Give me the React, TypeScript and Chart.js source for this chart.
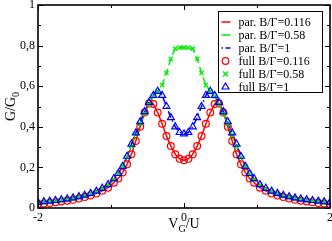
import React, { useEffect, useRef } from "react";
import { Chart, registerables } from "chart.js";

Chart.register(...registerables);

// ---------------- data ----------------
const xValues = [
  -2.0, -1.92, -1.84, -1.76, -1.68, -1.6, -1.52, -1.44, -1.36, -1.28, -1.2, -1.12, -1.04,
  -0.96, -0.9, -0.84, -0.78, -0.72, -0.66, -0.6, -0.54, -0.48, -0.42, -0.36, -0.3, -0.24, -0.18, -0.12, -0.06,
  0,
  0.06, 0.12, 0.18, 0.24, 0.3, 0.36, 0.42, 0.48, 0.54, 0.6, 0.66, 0.72, 0.78, 0.84, 0.9, 0.96,
  1.04, 1.12, 1.2, 1.28, 1.36, 1.44, 1.52, 1.6, 1.68, 1.76, 1.84, 1.92, 2.0,
];

// B/Γ = 0.116
const gRed = [
  0.02, 0.022, 0.025, 0.028, 0.032, 0.036, 0.041, 0.047, 0.054, 0.062, 0.072, 0.085, 0.1,
  0.125, 0.145, 0.175, 0.215, 0.265, 0.33, 0.4, 0.47, 0.515, 0.512, 0.47, 0.415, 0.355, 0.305, 0.265, 0.242,
  0.235,
  0.242, 0.265, 0.305, 0.355, 0.415, 0.47, 0.512, 0.515, 0.47, 0.4, 0.33, 0.265, 0.215, 0.175, 0.145, 0.125,
  0.1, 0.085, 0.072, 0.062, 0.054, 0.047, 0.041, 0.036, 0.032, 0.028, 0.025, 0.022, 0.02,
];

// B/Γ = 0.58
const gGreen = [
  0.025, 0.028, 0.031, 0.034, 0.038, 0.042, 0.047, 0.053, 0.06, 0.069, 0.08, 0.094, 0.113,
  0.14, 0.168, 0.205, 0.25, 0.305, 0.36, 0.415, 0.465, 0.51, 0.55, 0.575, 0.605, 0.665, 0.735, 0.785, 0.79,
  0.79,
  0.79, 0.785, 0.735, 0.665, 0.605, 0.575, 0.55, 0.51, 0.465, 0.415, 0.36, 0.305, 0.25, 0.205, 0.168, 0.14,
  0.113, 0.094, 0.08, 0.069, 0.06, 0.053, 0.047, 0.042, 0.038, 0.034, 0.031, 0.028, 0.025,
];

// B/Γ = 1
const gBlue = [
  0.028, 0.031, 0.034, 0.037, 0.041, 0.045, 0.05, 0.056, 0.063, 0.072, 0.083, 0.097, 0.115,
  0.145, 0.17, 0.205, 0.255, 0.315, 0.37, 0.425, 0.475, 0.52, 0.555, 0.575, 0.555, 0.5, 0.445, 0.4, 0.372,
  0.365,
  0.372, 0.4, 0.445, 0.5, 0.555, 0.575, 0.555, 0.52, 0.475, 0.425, 0.37, 0.315, 0.255, 0.205, 0.17, 0.145,
  0.115, 0.097, 0.083, 0.072, 0.063, 0.056, 0.05, 0.045, 0.041, 0.037, 0.034, 0.031, 0.028,
];

const seriesLabels = [
  "par. B/Γ=0.116",
  "par. B/Γ=0.58",
  "par. B/Γ=1",
  "full B/Γ=0.116",
  "full B/Γ=0.58",
  "full B/Γ=1",
];

const xTickValues = [-2, 0, 2];
const xTickLabels = ["-2", "0", "2"];
const xMinorTicks = [-1, 1];
const yTickValues = [0, 0.2, 0.4, 0.6, 0.8, 1];
const yTickLabels = ["0", "0,2", "0,4", "0,6", "0,8", "1"];
const yMinorTicks = [0.1, 0.3, 0.5, 0.7, 0.9];

// ---------------- styles ----------------
const SERIF = "'Liberation Serif', 'Times New Roman', serif";
const RED = "#ff0000";
const GREEN = "#00ee00";
const BLUE = "#0000ff";

const pts = (ys: number[]) => xValues.map((x, i) => ({ x, y: ys[i] }));

function drawMarker(ctx: CanvasRenderingContext2D, style: string, x: number, y: number, r: number) {
  ctx.beginPath();
  if (style === "circle") {
    ctx.arc(x, y, r, 0, Math.PI * 2);
  } else if (style === "crossRot") {
    ctx.moveTo(x - r * 0.8, y - r * 0.8);
    ctx.lineTo(x + r * 0.8, y + r * 0.8);
    ctx.moveTo(x + r * 0.8, y - r * 0.8);
    ctx.lineTo(x - r * 0.8, y + r * 0.8);
  } else {
    ctx.moveTo(x, y - r);
    ctx.lineTo(x + r * 0.87, y + r * 0.5);
    ctx.lineTo(x - r * 0.87, y + r * 0.5);
    ctx.closePath();
  }
  ctx.stroke();
}

function drawSubText(
  ctx: CanvasRenderingContext2D,
  parts: [string, boolean][],
  cx: number,
  baseline: number,
  size: number
) {
  const subSize = size * 0.72;
  let total = 0;
  const widths = parts.map(([t, sub]) => {
    ctx.font = `${sub ? subSize : size}px ${SERIF}`;
    const w = ctx.measureText(t).width;
    total += w;
    return w;
  });
  let x = cx - total / 2;
  ctx.textAlign = "left";
  ctx.textBaseline = "alphabetic";
  parts.forEach(([t, sub], i) => {
    ctx.font = `${sub ? subSize : size}px ${SERIF}`;
    ctx.fillText(t, x, baseline + (sub ? size * 0.28 : 0));
    x += widths[i];
  });
}

const framePlugin = {
  id: "frameTicks",
  afterDatasetsDraw(chart: any) {
    const { ctx, chartArea: ca, scales } = chart;
    const xs = scales.x;
    const ys = scales.y;
    ctx.save();
    ctx.strokeStyle = "#000";
    ctx.setLineDash([]);
    ctx.lineWidth = 1;
    const major = 5;
    const minor = 3;
    const vt = (v: number, len: number) => {
      const px = Math.round(xs.getPixelForValue(v)) + 0.5;
      ctx.beginPath();
      ctx.moveTo(px, ca.bottom);
      ctx.lineTo(px, ca.bottom - len);
      ctx.moveTo(px, ca.top);
      ctx.lineTo(px, ca.top + len);
      ctx.stroke();
    };
    const ht = (v: number, len: number) => {
      const py = Math.round(ys.getPixelForValue(v)) + 0.5;
      ctx.beginPath();
      ctx.moveTo(ca.left, py);
      ctx.lineTo(ca.left + len, py);
      ctx.moveTo(ca.right, py);
      ctx.lineTo(ca.right - len, py);
      ctx.stroke();
    };
    xTickValues.forEach((v) => vt(v, major));
    xMinorTicks.forEach((v) => vt(v, minor));
    yTickValues.forEach((v) => ht(v, major));
    yMinorTicks.forEach((v) => ht(v, minor));
    ctx.lineWidth = 1.6;
    ctx.strokeRect(ca.left, ca.top, ca.right - ca.left, ca.bottom - ca.top);
    ctx.restore();
  },
};

const legendPlugin = {
  id: "boxLegend",
  afterDraw(chart: any) {
    const { ctx, chartArea: ca } = chart;
    const bx = ca.right - 111.5;
    const by = ca.top + 6.5;
    const bw = 104;
    const bh = 81;
    ctx.save();
    ctx.fillStyle = "#fff";
    ctx.fillRect(bx, by, bw, bh);
    ctx.strokeStyle = "#000";
    ctx.lineWidth = 1;
    ctx.setLineDash([]);
    ctx.strokeRect(bx, by, bw, bh);
    const datasets = chart.data.datasets;
    datasets.forEach((ds: any, i: number) => {
      const y = by + 10.5 + 13 * i;
      const sx = bx + 7;
      ctx.strokeStyle = ds.borderColor;
      if (ds.showLine) {
        ctx.lineWidth = 1.5;
        ctx.beginPath();
        if (ds.legendDash) {
          ctx.setLineDash(ds.legendDash);
        } else {
          ctx.setLineDash([]);
        }
        ctx.moveTo(sx - 4, y);
        ctx.lineTo(sx + 5, y);
        ctx.stroke();
        ctx.setLineDash([]);
      } else {
        ctx.lineWidth = ds.pointBorderWidth;
        drawMarker(ctx, ds.pointStyle, sx, y, ds.legendRadius);
      }
      ctx.fillStyle = "#000";
      ctx.font = `12px ${SERIF}`;
      ctx.textAlign = "left";
      ctx.textBaseline = "middle";
      ctx.fillText(ds.label, bx + 20, y + 0.5);
    });
    ctx.restore();
  },
};

const titlePlugin = {
  id: "axisTitles",
  afterDraw(chart: any) {
    const { ctx, chartArea: ca } = chart;
    ctx.save();
    ctx.fillStyle = "#000";
    drawSubText(ctx, [["V", false], ["G", true], ["/U", false]], (ca.left + ca.right) / 2, 228, 14);
    ctx.translate(15, (ca.top + ca.bottom) / 2);
    ctx.rotate(-Math.PI / 2);
    drawSubText(ctx, [["G/G", false], ["0", true]], 0, 0, 14);
    ctx.restore();
  },
};

export default function App() {
  const ref = useRef<HTMLCanvasElement>(null);
  useEffect(() => {
    if (!ref.current) return;
    const lineBase = { showLine: true, pointRadius: 0, borderWidth: 1.5, fill: false, tension: 0 };
    const markBase = {
      showLine: false,
      backgroundColor: "rgba(0,0,0,0)",
      pointBackgroundColor: "rgba(0,0,0,0)",
      pointBorderWidth: 1.2,
    };
    const chart = new Chart(ref.current, {
      type: "scatter",
      data: {
        datasets: [
          { ...lineBase, label: seriesLabels[0], data: pts(gRed), borderColor: RED, order: 6 },
          { ...lineBase, label: seriesLabels[1], data: pts(gGreen), borderColor: GREEN, borderDash: [7, 4], order: 5 },
          {
            ...lineBase,
            label: seriesLabels[2],
            data: pts(gBlue),
            borderColor: BLUE,
            borderDash: [7, 3, 1.5, 3],
            legendDash: [1.5, 2.5, 6, 0],
            order: 4,
          },
          {
            ...markBase,
            label: seriesLabels[3],
            data: pts(gRed),
            borderColor: RED,
            pointBorderColor: RED,
            pointStyle: "circle",
            pointRadius: 3.4,
            legendRadius: 3.3,
            order: 3,
          },
          {
            ...markBase,
            label: seriesLabels[4],
            data: pts(gGreen),
            borderColor: GREEN,
            pointBorderColor: GREEN,
            pointStyle: "crossRot",
            pointRadius: 3,
            pointBorderWidth: 1.4,
            legendRadius: 3,
            order: 2,
          },
          {
            ...markBase,
            label: seriesLabels[5],
            data: pts(gBlue),
            borderColor: BLUE,
            pointBorderColor: BLUE,
            pointStyle: "triangle",
            pointRadius: 4,
            legendRadius: 4,
            order: 1,
          },
        ] as any,
      },
      options: {
        animation: false,
        responsive: false,
        devicePixelRatio: 1,
        layout: { autoPadding: false, padding: { top: 5, right: 2, left: 0, bottom: 0 } },
        plugins: { legend: { display: false }, tooltip: { enabled: false } },
        scales: {
          x: {
            type: "linear",
            min: -2,
            max: 2,
            grid: { display: false, drawTicks: false },
            border: { display: false },
            afterBuildTicks: (s: any) => {
              s.ticks = xTickValues.map((v) => ({ value: v }));
            },
            afterFit: (s: any) => {
              s.height = 33;
              s.paddingLeft = 0;
              s.paddingRight = 0;
            },
            ticks: {
              autoSkip: false,
              maxRotation: 0,
              padding: 3,
              color: "#000",
              font: { family: SERIF, size: 12 },
              callback: (v: any) => {
                const i = xTickValues.indexOf(Number(v));
                return i >= 0 ? xTickLabels[i] : "";
              },
            },
          },
          y: {
            type: "linear",
            min: 0,
            max: 1,
            grid: { display: false, drawTicks: false },
            border: { display: false },
            afterBuildTicks: (s: any) => {
              s.ticks = yTickValues.map((v) => ({ value: v }));
            },
            afterFit: (s: any) => {
              s.width = 38;
              s.paddingTop = 0;
              s.paddingBottom = 0;
            },
            ticks: {
              autoSkip: false,
              padding: 3,
              color: "#000",
              font: { family: SERIF, size: 12 },
              callback: (v: any) => {
                const i = yTickValues.findIndex((t) => Math.abs(t - Number(v)) < 1e-9);
                return i >= 0 ? yTickLabels[i] : "";
              },
            },
          },
        },
      } as any,
      plugins: [framePlugin, legendPlugin, titlePlugin],
    });
    return () => chart.destroy();
  }, []);
  return (
    <div style={{ position: "fixed", left: 0, top: 0, width: 332, height: 241, background: "#fff" }}>
      <canvas ref={ref} width={332} height={241} style={{ display: "block", width: 332, height: 241 }} />
    </div>
  );
}
